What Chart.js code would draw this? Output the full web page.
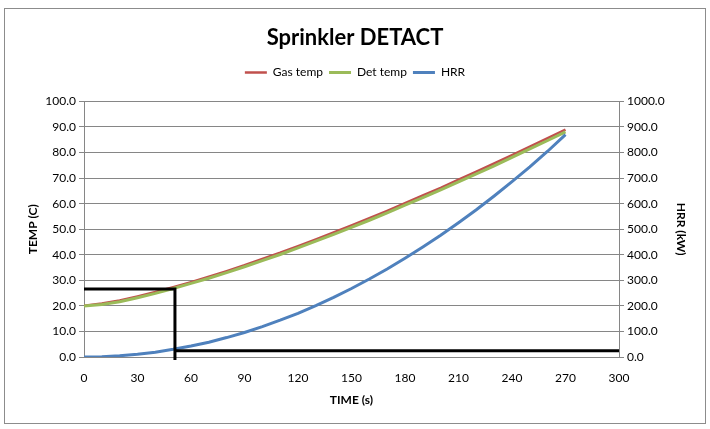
<!DOCTYPE html>
<html><head><meta charset="utf-8">
<script src="https://cdn.jsdelivr.net/npm/chart.js@4/dist/chart.umd.min.js"></script>
<style>html,body{margin:0;padding:0;background:#fff}#wrap{width:710px;height:429px}</style>
</head><body><div id="wrap"><canvas id="c" width="710" height="429"></canvas></div>
<script>
const timeS = [0,10,20,30,40,50,60,70,80,90,100,110,120,130,140,150,160,170,180,190,200,210,220,230,240,250,260,270];
const gasTemp = [20.0,20.9,22.1,23.7,25.4,27.3,29.3,31.4,33.6,35.9,38.4,40.8,43.4,46.0,48.7,51.5,54.3,57.2,60.2,63.2,66.2,69.4,72.5,75.7,79.0,82.3,85.6,89.0];
const detTemp = [20.0,20.5,21.6,23.2,24.9,26.8,28.8,30.8,33.0,35.3,37.7,40.1,42.7,45.3,48.0,50.7,53.5,56.4,59.4,62.4,65.4,68.5,71.6,74.8,78.1,81.4,84.7,88.1];
const hrr = [0,1.2,4.8,10.8,19,30,43,58,76,96,119,144,171,201,233,268,305,344,386,430,476,525,576,630,686,744,805,870];
// guide lines (activation marker)
const guideTime = [0, 51, 51];
const guideTemp = [26.6, 26.6, -1.2];
const guideHrrTime = [51, 300];
const guideHrr = [24, 24];

const pts = (xs, ys) => xs.map((x, i) => ({x, y: ys[i]}));

const border = {
  id: 'border',
  afterInit(chart) {
    const lg = chart.legend;
    if (lg && !lg._patched) {
      const orig = lg.fit.bind(lg);
      lg.fit = function () { orig(); this.height += 13; };
      lg._patched = true;
    }
  },
  beforeDraw(chart) {
    const ctx = chart.ctx;
    ctx.save();
    ctx.fillStyle = '#fff';
    ctx.fillRect(0, 0, chart.width, chart.height);
    ctx.strokeStyle = '#8c8c8c';
    ctx.lineWidth = 1;
    ctx.strokeRect(4.5, 8.5, 701, 415);
    ctx.restore();
  }
};

const tickFont = {family: 'Lato', size: 12};
const titleFont = {family: 'Lato', size: 12, weight: 'bold'};

new Chart(document.getElementById('c'), {
  type: 'scatter',
  data: {
    datasets: [
      {label: 'Gas temp', data: pts(timeS, gasTemp), showLine: true, borderColor: '#C0504D', backgroundColor: '#C0504D', borderWidth: 2.5, pointRadius: 0, yAxisID: 'y', order: 3},
      {label: 'Det temp', data: pts(timeS, detTemp), showLine: true, borderColor: '#9BBB59', backgroundColor: '#9BBB59', borderWidth: 3, pointRadius: 0, yAxisID: 'y', order: 2},
      {label: 'HRR', data: pts(timeS, hrr), showLine: true, borderColor: '#4F81BD', backgroundColor: '#4F81BD', borderWidth: 3, pointRadius: 0, yAxisID: 'y2', order: 1},
      {label: '', data: pts(guideTime, guideTemp), showLine: true, borderColor: '#000', borderWidth: 3, pointRadius: 0, yAxisID: 'y', order: 0, clip: false},
      {label: '', data: pts(guideHrrTime, guideHrr), showLine: true, borderColor: '#000', borderWidth: 3, pointRadius: 0, yAxisID: 'y2', order: 0, clip: false}
    ]
  },
  options: {
    responsive: false,
    animation: false,
    devicePixelRatio: 1,
    layout: {padding: {left: 10, right: 10, top: 14, bottom: 10}},
    plugins: {
      tooltip: {enabled: false},
      title: {display: true, text: 'Sprinkler DETACT', color: '#000', font: {family: 'Lato', size: 22, weight: 'bold'}, padding: {top: 11, bottom: 9}},
      legend: {
        display: true,
        labels: {
          color: '#000', font: {family: 'Lato', size: 12},
          usePointStyle: true, pointStyle: 'line', pointStyleWidth: 22, boxHeight: 12, padding: 6,
          filter: (item) => item.text !== '',
          sort: (a, b) => a.datasetIndex - b.datasetIndex
        }
      }
    },
    scales: {
      x: {
        type: 'linear', min: 0, max: 300,
        ticks: {stepSize: 30, color: '#000', font: tickFont, padding: 14},
        grid: {display: false, drawTicks: false},
        border: {color: '#868686'},
        title: {display: true, text: 'TIME (s)', color: '#000', font: titleFont, padding: {top: 4, bottom: 12}},
        afterFit(s) { s.height = 62; }
      },
      y: {
        type: 'linear', position: 'left', min: 0, max: 100,
        ticks: {stepSize: 10, color: '#000', font: tickFont, callback: v => v.toFixed(1)},
        grid: {color: '#868686', tickLength: 5},
        border: {color: '#868686'},
        title: {display: true, text: 'TEMP (C)', color: '#000', font: titleFont, padding: {top: 16, bottom: 4}},
        afterFit(s) { s.width = 74; }
      },
      y2: {
        type: 'linear', position: 'right', min: 0, max: 1000,
        ticks: {stepSize: 100, color: '#000', font: tickFont, callback: v => v.toFixed(1)},
        grid: {drawOnChartArea: false, color: '#868686', tickLength: 5},
        border: {color: '#868686'},
        title: {display: true, text: 'HRR (kW)', color: '#000', font: titleFont, padding: {top: 12, bottom: 4}},
        afterFit(s) { s.width = 81; }
      }
    }
  },
  plugins: [border]
});
</script>
</body></html>
